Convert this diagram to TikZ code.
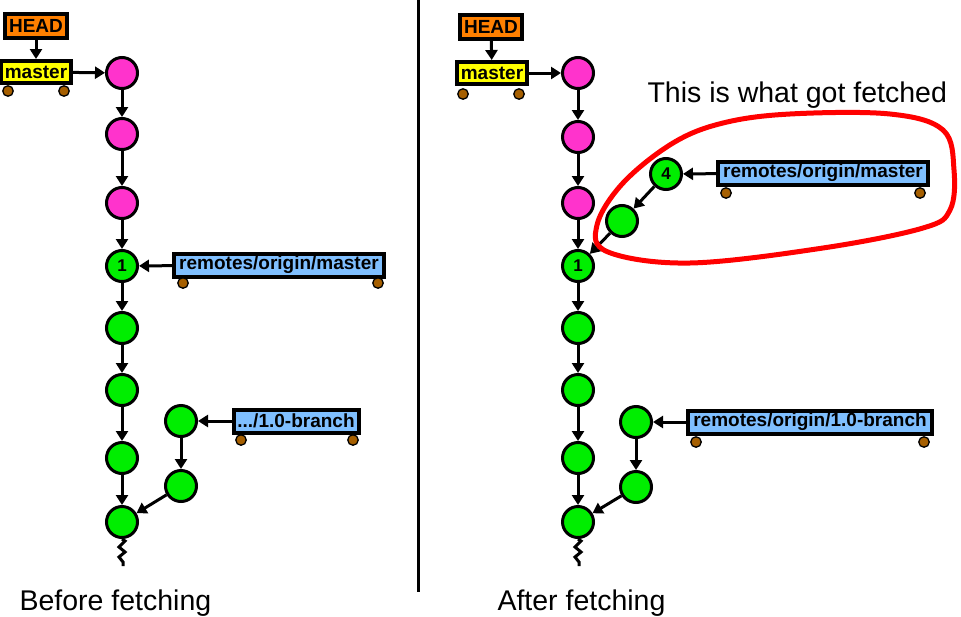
\documentclass[tikz,border=0pt]{standalone}
\usepackage{fontspec}
\setmainfont{Liberation Sans}
\usetikzlibrary{arrows.meta}
\definecolor{cpink}{HTML}{FF33CC}
\definecolor{cgreen}{HTML}{00EE00}
\definecolor{corange}{HTML}{FF8000}
\definecolor{cyellow}{HTML}{FFFF00}
\definecolor{cblue}{HTML}{7FBFFF}
\definecolor{cwheel}{HTML}{A65F00}
\begin{document}
\begin{tikzpicture}[x=1pt,y=-1pt,
  commit/.style={circle,draw=black,line width=3pt,minimum size=31pt,inner sep=0pt,font=\fontsize{17}{17}\selectfont\bfseries},
  pinkc/.style={commit,fill=cpink},
  greenc/.style={commit,fill=cgreen},
  refbox/.style={draw=black,line width=4pt,inner sep=0pt,font=\fontsize{19}{19}\selectfont\bfseries},
  headbox/.style={refbox,fill=corange,minimum width=62pt,minimum height=24pt},
  mastbox/.style={refbox,fill=cyellow,minimum width=70pt,minimum height=22pt},
  remotebox/.style={refbox,fill=cblue,minimum height=23pt},
  wheel/.style={circle,draw=black,line width=1.3pt,fill=cwheel,minimum size=10.5pt,inner sep=0pt},
  conn/.style={line width=3pt,-{Triangle[length=10pt,width=12pt]}},
  caption/.style={font=\fontsize{28.5}{28.5}\selectfont}
]
\useasboundingbox (0,0) rectangle (961,616);
% ---------- left ----------
\node[headbox] (hL) at (36,26) {HEAD};
\node[mastbox] (mL) at (36,72) {master};
\node[wheel] (mLw1) at (8,91) {};
\node[wheel] (mLw2) at (64,91) {};
\node[pinkc] (L1) at (122,73) {};
\node[pinkc] (L2) at (122,134) {};
\node[pinkc] (L3) at (122,203) {};
\node[greenc] (L4) at (122,266) {1};
\node[greenc] (L5) at (122,328) {};
\node[greenc] (L6) at (122,390) {};
\node[greenc] (L7) at (122,458) {};
\node[greenc] (L8) at (122,522) {};
\node[greenc] (LS1) at (181,421) {};
\node[greenc] (LS2) at (181,486) {};
\node[remotebox,minimum width=210pt] (rL) at (279,265) {remotes/origin/master};
\node[wheel] (rLw1) at (183,283) {};
\node[wheel] (rLw2) at (378,283) {};
\node[remotebox,minimum width=125pt] (bL) at (296,421) {.../1.0-branch};
\node[wheel] (bLw1) at (241,440) {};
\node[wheel] (bLw2) at (353,440) {};
\draw[conn] (hL) -- (mL);
\draw[conn] (mL) -- (L1);
\draw[conn] (L1) -- (L2);
\draw[conn] (L2) -- (L3);
\draw[conn] (L3) -- (L4);
\draw[conn] (L4) -- (L5);
\draw[conn] (L5) -- (L6);
\draw[conn] (L6) -- (L7);
\draw[conn] (L7) -- (L8);
\draw[conn] (LS1) -- (LS2);
\draw[conn] (LS2) -- (L8);
\draw[conn] (rL) -- (L4);
\draw[conn] (bL) -- (LS1);
\coordinate (Lz) at (123,566);
\draw[line width=3pt] (L8.south) -- (125,541) -- (119,547) -- (125,552) -- (119,557) -- (123,562) -- (Lz);
\node[caption,anchor=base west] (capL) at (16,610) {Before fetching};
% separator
\coordinate (sepT) at (418,0);
\coordinate (sepB) at (418,592);
\draw[line width=3pt] (sepT) -- (sepB);
% ---------- right ----------
\node[headbox] (hR) at (491,27) {HEAD};
\node[mastbox] (mR) at (492,73) {master};
\node[wheel] (mRw1) at (463,94) {};
\node[wheel] (mRw2) at (519,94) {};
\node[pinkc] (R1) at (578,73) {};
\node[pinkc] (R2) at (578,137) {};
\node[pinkc] (R3) at (578,203) {};
\node[greenc] (R4) at (578,266) {1};
\node[greenc] (R5) at (578,328) {};
\node[greenc] (R6) at (578,390) {};
\node[greenc] (R7) at (578,458) {};
\node[greenc] (R8) at (578,522) {};
\node[greenc] (RS1) at (636,422) {};
\node[greenc] (RS2) at (636,487) {};
\node[greenc] (RN1) at (666,174) {4};
\node[greenc] (RN2) at (622,221) {};
\node[remotebox,minimum width=210pt] (rR) at (823,173) {remotes/origin/master};
\node[wheel] (rRw1) at (726,193) {};
\node[wheel] (rRw2) at (920,193) {};
\node[remotebox,minimum width=244pt] (bR) at (810,422) {remotes/origin/1.0-branch};
\node[wheel] (bRw1) at (696,442) {};
\node[wheel] (bRw2) at (924,442) {};
\draw[conn] (hR) -- (mR);
\draw[conn] (mR) -- (R1);
\draw[conn] (R1) -- (R2);
\draw[conn] (R2) -- (R3);
\draw[conn] (R3) -- (R4);
\draw[conn] (R4) -- (R5);
\draw[conn] (R5) -- (R6);
\draw[conn] (R6) -- (R7);
\draw[conn] (R7) -- (R8);
\draw[conn] (RS1) -- (RS2);
\draw[conn] (RS2) -- (R8);
\draw[conn] (RN1) -- (RN2);
\draw[conn] (RN2) -- (R4);
\draw[conn] (rR) -- (RN1);
\draw[conn] (bR) -- (RS1);
\coordinate (Rz) at (579,566);
\draw[line width=3pt] (R8.south) -- (581,541) -- (575,547) -- (581,552) -- (575,557) -- (579,562) -- (Rz);
\node[caption,anchor=base west] (capR) at (494,610) {After fetching};
\node[caption,anchor=base west] (fetched) at (644,102) {This is what got fetched};
% red outline
\draw[red,line width=5pt] plot[smooth cycle,tension=0.6] coordinates {
  (597,225) (623,183) (673,143) (723,123) (790,114) (890,114) (943,130)
  (954,170) (950,210) (923,228) (823,248) (690,263) (608,252)};
\end{tikzpicture}
\end{document}
